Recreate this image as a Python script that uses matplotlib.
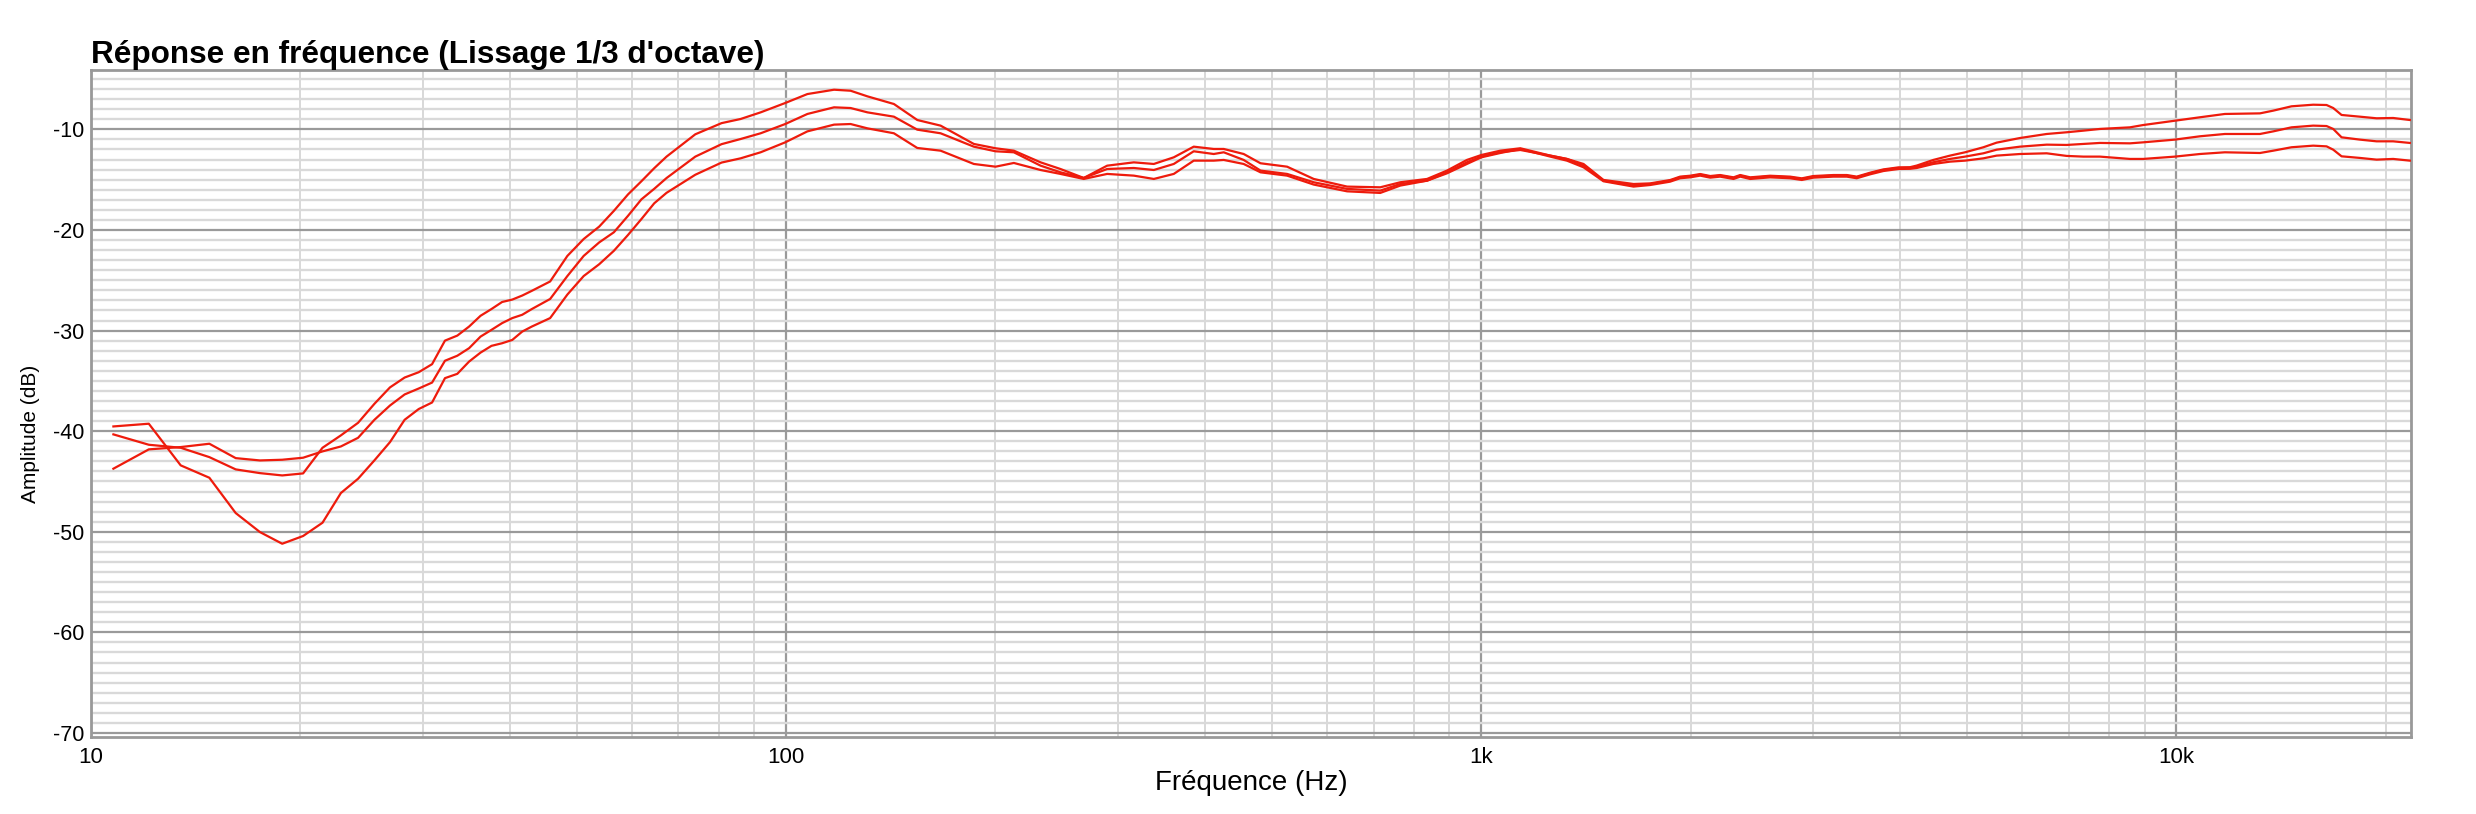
import matplotlib
matplotlib.use("Agg")
import matplotlib.pyplot as plt
from matplotlib import font_manager
from matplotlib.ticker import FixedLocator, FixedFormatter, NullFormatter

plt.rcParams['font.family'] = ['Liberation Sans', 'DejaVu Sans']

# ---- data -------------------------------------------------------------
freqs = [10.77, 12.11, 13.46, 14.80, 16.15, 17.50, 18.84, 20.19, 21.53, 22.88, 24.22, 25.57,
         26.92, 28.26, 29.61, 30.95, 32.30, 33.65, 34.99, 36.34, 37.68, 39.03, 40.37, 41.72,
         43.07, 45.76, 48.45, 51.14, 53.83, 56.52, 59.22, 61.91, 64.60, 67.29, 74.02, 80.75,
         86.0, 91.9, 99.7, 107.3, 117.2, 123.8, 130.9, 142.9, 154.4, 166.8, 186.2, 200.1,
         212.6, 232.3, 248.1, 268.0, 289.6, 316.3, 338.0, 361.1, 385.8, 412.2,
         426.1, 455.2, 481.3, 525.6, 574.1, 641.2, 715.6, 764.6, 835.6, 892.6, 953.6, 1000,
         1065, 1138, 1257, 1328, 1403, 1499, 1656,
         1750, 1869, 1932, 1997, 2065, 2135, 2206, 2306, 2358, 2437, 2603, 2781, 2891, 3004,
         3210, 3356, 3468, 3625, 3789, 3981, 4139,
         4231, 4470, 4724, 4965, 5276, 5513, 5957, 6507, 6951, 7346,
         7762, 8573, 8958, 9950, 10810, 11740, 13188, 13782, 14640, 15731, 16443, 16810,
         17281, 18362, 19407, 20503, 21666]

resp_top = [-40.32, -41.35, -41.65, -42.58, -43.80, -44.17, -44.40, -44.20, -41.65, -40.42, -39.17, -37.28,
            -35.65, -34.67, -34.14, -33.34, -31.0, -30.5, -29.6, -28.53, -27.86, -27.16, -26.92, -26.52,
            -26.05, -25.12, -22.58, -20.9, -19.67, -18.1, -16.47, -15.16, -13.86, -12.71, -10.49, -9.38,
            -8.97, -8.31, -7.38, -6.49, -6.06, -6.16, -6.72, -7.48, -9.07, -9.63, -11.45, -11.88,
            -12.12, -13.28, -13.94, -14.83, -13.61, -13.28, -13.44, -12.78, -11.72, -11.95,
            -11.95, -12.45, -13.37, -13.71, -14.93, -15.69, -15.76, -15.26, -14.93, -14.1, -13.04, -12.55,
            -12.12, -11.88, -12.61, -12.94, -13.44, -15.03, -15.43,
            -15.37, -15.04, -14.70, -14.61, -14.44, -14.64, -14.54, -14.77, -14.54, -14.77, -14.61, -14.70,
            -14.87, -14.64, -14.54, -14.54, -14.70, -14.31, -13.98, -13.78, -13.76,
            -13.6, -13.04, -12.61, -12.28, -11.78, -11.32, -10.86, -10.46, -10.29, -10.13,
            -9.96, -9.8, -9.57, -9.14, -8.8, -8.47, -8.41, -8.14, -7.71, -7.55, -7.58, -7.88,
            -8.57, -8.74, -8.9, -8.87, -9.07]

resp_mid = [-43.73, -41.81, -41.58, -41.25, -42.68, -42.91, -42.84, -42.64, -42.01, -41.52, -40.66, -38.87,
            -37.45, -36.35, -35.76, -35.17, -33.0, -32.5, -31.75, -30.6, -29.93, -29.26, -28.76, -28.43,
            -27.86, -26.86, -24.58, -22.58, -21.24, -20.23, -18.6, -16.96, -15.91, -14.84, -12.71, -11.47,
            -10.96, -10.39, -9.47, -8.47, -7.81, -7.88, -8.31, -8.74, -10.03, -10.39, -11.72, -12.18,
            -12.28, -13.61, -14.27, -14.83, -13.94, -13.84, -14.04, -13.44, -12.18, -12.45,
            -12.28, -13.04, -14.1, -14.43, -15.26, -15.92, -16.09, -15.43, -15.1, -14.27, -13.27, -12.71,
            -12.28, -12.05, -12.61, -12.94, -13.6, -15.1, -15.59,
            -15.43, -15.1, -14.76, -14.67, -14.5, -14.7, -14.6, -14.83, -14.6, -14.83, -14.67, -14.76,
            -14.93, -14.7, -14.6, -14.6, -14.76, -14.37, -14.04, -13.84, -13.84,
            -13.71, -13.27, -12.94, -12.71, -12.38, -12.02, -11.72, -11.52, -11.55, -11.45,
            -11.35, -11.39, -11.29, -11.02, -10.69, -10.46, -10.46, -10.2, -9.8, -9.63, -9.67, -9.96,
            -10.79, -11.02, -11.19, -11.19, -11.35]

resp_low = [-39.53, -39.26, -43.4, -44.63, -48.14, -50.03, -51.19, -50.42, -49.1, -46.15, -44.73, -42.9,
            -41.09, -38.87, -37.8, -37.15, -34.73, -34.3, -33.08, -32.19, -31.52, -31.26, -30.93, -30.1,
            -29.6, -28.76, -26.42, -24.58, -23.41, -22.07, -20.5, -18.92, -17.35, -16.31, -14.51, -13.3,
            -12.88, -12.28, -11.29, -10.2, -9.53, -9.47, -9.9, -10.39, -11.85, -12.12, -13.44, -13.71,
            -13.34, -14.04, -14.43, -14.93, -14.43, -14.6, -14.93, -14.43, -13.11, -13.11,
            -13.04, -13.44, -14.27, -14.6, -15.49, -16.16, -16.32, -15.59, -15.1, -14.37, -13.44, -12.78,
            -12.35, -11.95, -12.71, -13.11, -13.77, -15.16, -15.69,
            -15.53, -15.2, -14.86, -14.77, -14.6, -14.8, -14.7, -14.93, -14.7, -14.93, -14.77, -14.86,
            -15.03, -14.8, -14.7, -14.7, -14.86, -14.47, -14.14, -13.94, -13.92,
            -13.84, -13.44, -13.21, -13.11, -12.88, -12.61, -12.45, -12.38, -12.64, -12.71,
            -12.71, -12.94, -12.94, -12.71, -12.45, -12.28, -12.35, -12.12, -11.78, -11.62, -11.69, -12.02,
            -12.68, -12.84, -13.01, -12.94, -13.11]

series = [resp_top, resp_mid, resp_low]

x_major = [10, 100, 1000, 10000]
x_major_labels = ['10', '100', '1k', '10k']
y_major = [-70, -60, -50, -40, -30, -20, -10]
y_major_labels = ['-70', '-60', '-50', '-40', '-30', '-20', '-10']

title = "Réponse en fréquence (Lissage 1/3 d'octave)"
xlabel = "Fréquence (Hz)"
ylabel = "Amplitude (dB)"

# ---- figure -----------------------------------------------------------
W, H = 2476, 814
fig = plt.figure(figsize=(W / 100, H / 100), dpi=100)
ax = fig.add_axes([91 / W, (H - 737) / H, (2411 - 91) / W, (737 - 70) / H])

line_color = '#ee1b0c'
for s in series:
    ax.plot(freqs, s, color=line_color, lw=1.6, zorder=3, solid_joinstyle='round')

ax.set_xscale('log')
ax.set_xlim(10, 21750)
ax.set_ylim(-70.4, -4.1)

x_minor = [m * d for d in (10, 100, 1000) for m in range(2, 10)] + [20000]
ax.xaxis.set_major_locator(FixedLocator(x_major))
ax.xaxis.set_major_formatter(FixedFormatter(x_major_labels))
ax.xaxis.set_minor_locator(FixedLocator(x_minor))
ax.xaxis.set_minor_formatter(NullFormatter())

ax.yaxis.set_major_locator(FixedLocator(y_major))
ax.yaxis.set_major_formatter(FixedFormatter(y_major_labels))
ax.yaxis.set_minor_locator(FixedLocator([v for v in range(-70, -4) if v % 10 != 0]))

ax.grid(which='minor', axis='x', color='#d6d6d6', lw=1.3, zorder=0)
ax.grid(which='minor', axis='y', color='#d9d9d9', lw=1.7, zorder=0)
ax.grid(which='major', axis='both', color='#9a9a9a', lw=1.6, zorder=1)
ax.set_axisbelow(True)

for sp in ax.spines.values():
    sp.set_color('#999999')
    sp.set_linewidth(2.0)

ax.tick_params(which='both', length=0)
ax.tick_params(axis='x', labelsize=16, pad=7, colors='black')
ax.tick_params(axis='y', labelsize=15.5, pad=5, colors='black')

ax.set_title(title, loc='left', fontsize=22.7, fontweight='bold', pad=5)
ax.set_xlabel(xlabel, fontsize=20, labelpad=2)

installed = {f.name for f in font_manager.fontManager.ttflist}
if 'Liberation Sans Narrow' in installed:
    ax.set_ylabel(ylabel, fontsize=16.5, family=['Liberation Sans Narrow', 'DejaVu Sans'])
else:
    ax.set_ylabel(ylabel, fontsize=15)
ax.yaxis.set_label_coords(-0.0218, 0.455)

fig.savefig('out.png', dpi=100)
